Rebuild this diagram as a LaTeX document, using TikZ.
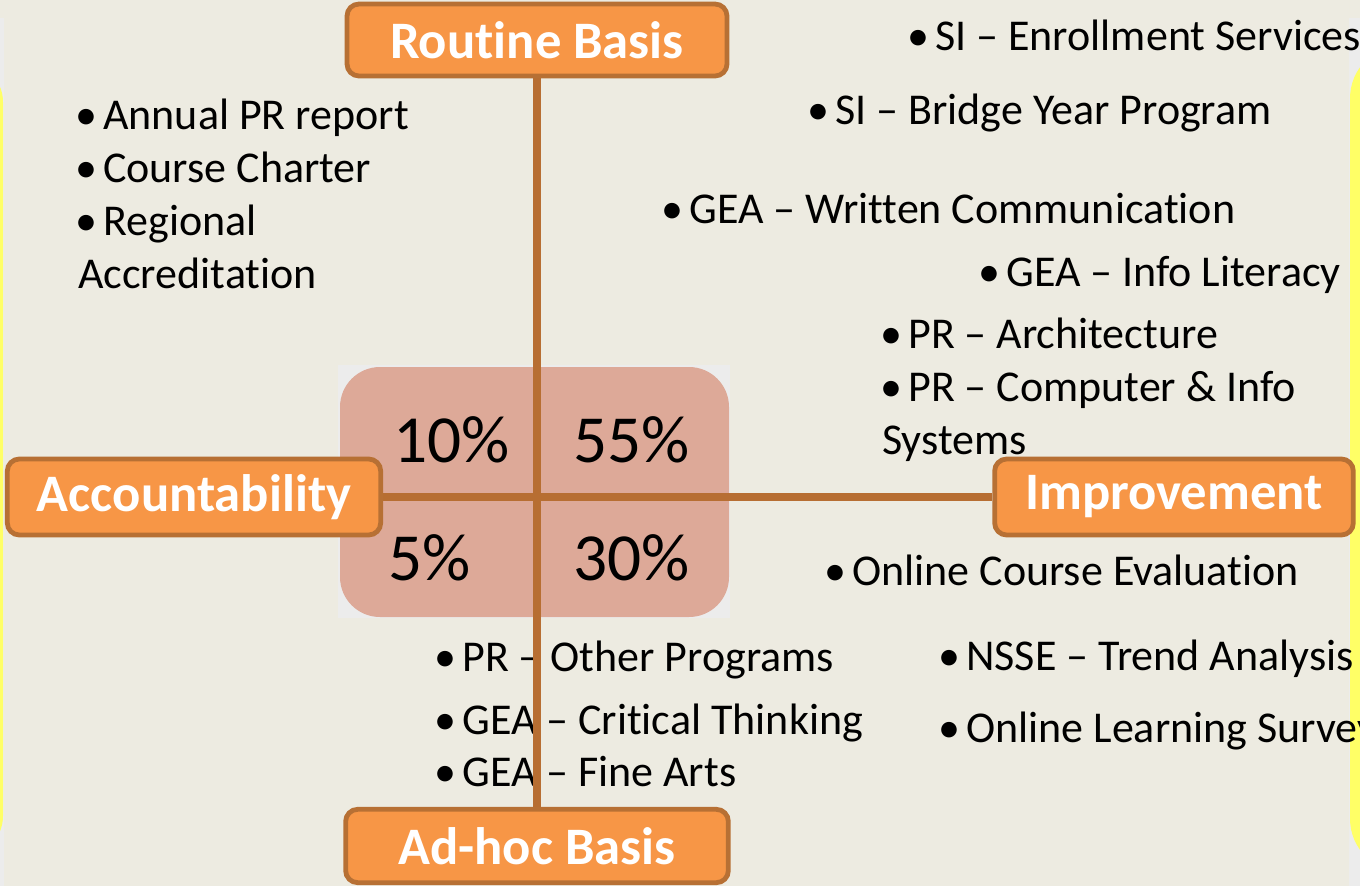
\documentclass[tikz,border=0pt]{standalone}
\usepackage{fontspec}
\setmainfont{Carlito}[Ligatures=NoCommon]
\definecolor{bgtan}{RGB}{237,235,225}
\definecolor{boxfill}{RGB}{247,150,70}
\definecolor{boxedge}{RGB}{183,112,52}
\definecolor{linebrown}{RGB}{183,110,50}
\definecolor{pinkq}{RGB}{221,169,152}
\definecolor{grayq}{RGB}{236,236,236}
\definecolor{yel}{RGB}{255,255,102}
\newcommand\bul{\makebox[18pt][l]{\hspace{-2.5pt}•}}
\tikzset{
  axisbox/.style={draw=boxedge, line width=3.6pt, fill=boxfill, rounded corners=9pt,
    text=white, font=\fontsize{39.5}{44}\selectfont\bfseries, inner sep=0pt},
  item/.style={anchor=base west, inner sep=0pt, font=\fontsize{33}{40}\selectfont, text=black},
  pct/.style={anchor=base west, inner sep=0pt, font=\fontsize{50.5}{60}\selectfont, text=black},
  axisline/.style={draw=linebrown, line width=6pt}
}
\begin{document}
\begin{tikzpicture}[x=0.75pt,y=-0.75pt]
\useasboundingbox (0,0) rectangle (1360,886);
\fill[bgtan] (0,0) rectangle (1360,886);
% edge strips
\fill[grayq] (0,18) rectangle (4,886);
\fill[yel, rounded corners=30pt] (-60,62) rectangle (3,856);
\fill[grayq] (1349,18) rectangle (1360,886);
\fill[yel, rounded corners=40pt] (1350,45) rectangle (1420,872);
% quadrant
\fill[grayq] (338,365) rectangle (730,618);
\fill[pinkq, rounded corners=30pt] (340,367) rectangle (729,617);
\node[pct] (p10) at (393,462) {10\%};
\node[pct] (p55) at (573,462) {55\%};
\node[pct] (p5) at (388,580) {5\%};
\node[pct] (p30) at (573,580) {30\%};
% items
\node[item] (t1) at (79,129) {\bul Annual PR report};
\node[item] (t2) at (79,182) {\bul Course Charter};
\node[item] (t3) at (79,235) {\bul Regional};
\node[item] (t4) at (78,288) {Accreditation};
\node[item] (r1) at (911,50) {\bul SI – Enrollment Services};
\node[item] (r2) at (811,124) {\bul SI – Bridge Year Program};
\node[item] (r3) at (665,223) {\bul GEA – Written Communication};
\node[item] (r4) at (982,286) {\bul GEA – Info Literacy};
\node[item] (r5) at (884,348) {\bul PR – Architecture};
\node[item] (r6) at (884,401) {\bul PR – Computer \& Info};
\node[item] (r7) at (882,454) {Systems};
\node[item] (i1) at (828,585) {\bul Online Course Evaluation};
\node[item] (i2) at (942,670) {\bul NSSE – Trend Analysis};
\node[item] (i3) at (942,742) {\bul Online Learning Survey};
\node[item] (b1) at (438,671) {\bul PR – Other Programs};
\node[item] (b2) at (438,734) {\bul GEA – Critical Thinking};
\node[item] (b3) at (438,786) {\bul GEA – Fine Arts};
% axis boxes
\node[axisbox, minimum width=285pt, minimum height=54pt] (rout) at (537,40) {Routine Basis};
\node[axisbox, minimum width=287pt, minimum height=55pt] (adh) at (537,846) {Ad-hoc Basis};
\node[axisbox, minimum width=280pt, minimum height=57pt] (acc) at (194,497) {Accountability};
\node[axisbox, minimum width=269pt, minimum height=57pt] (imp) at (1174,497) {Improvement};
% axes
\draw[axisline] (rout.south) -- (adh.north);
\draw[axisline] (acc.east) -- (imp.west);
\end{tikzpicture}
\end{document}
